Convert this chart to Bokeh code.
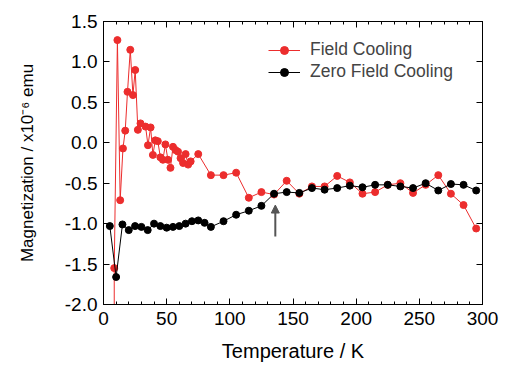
from bokeh.plotting import figure
from bokeh.models import (Range1d, LinearAxis, SingleIntervalTicker, PrintfTickFormatter,
                          CustomJSTickFormatter, Arrow, NormalHead, Legend, LegendItem)
from bokeh.embed import file_html
from bokeh.resources import INLINE

# ---- data ----
fc_temp = [8.5, 8.5, 11, 13.2, 15.4, 17.2, 19, 21.2, 23.3, 25.1,
           27.2, 29.3, 33.3, 35.2, 37.3, 39.1, 41, 43, 45, 47,
           49, 51, 53, 55, 57, 59, 61, 63, 65, 67,
           69, 75, 85, 95, 105, 115, 125, 135, 145, 155,
           165, 175, 185, 195, 205, 215, 225, 235, 245, 255,
           265, 275, 285, 295]
fc_mag = [-2.6, -1.55, 1.27, -0.71, -0.07, 0.15, 0.63, 1.15, 0.59, 0.90,
          0.16, 0.24, 0.20, -0.03, 0.19, -0.15, 0.03, 0.02, -0.18, -0.21,
          -0.02, -0.21, -0.31, -0.05, -0.09, -0.11, -0.19, -0.25, -0.14, -0.27,
          -0.23, -0.14, -0.40, -0.40, -0.37, -0.68, -0.61, -0.64, -0.47, -0.63,
          -0.54, -0.54, -0.41, -0.49, -0.63, -0.61, -0.52, -0.50, -0.62, -0.52,
          -0.40, -0.63, -0.77, -1.06]

zfc_temp = [5, 10, 15, 20, 25, 30, 35, 40, 45, 50, 55, 60, 65, 70, 75, 80, 85,
            95, 105, 115, 125, 135, 145, 155, 165, 175, 185, 195, 205, 215,
            225, 235, 245, 255, 265, 275, 285, 295]
zfc_mag = [-1.03, -1.66, -1.01, -1.08, -1.03, -1.04, -1.08, -1.00, -1.03, -1.05,
           -1.04, -1.03, -1.00, -0.97, -0.96, -0.99, -1.04,
           -0.97, -0.89, -0.84, -0.78, -0.63, -0.61, -0.62, -0.56, -0.58,
           -0.56, -0.53, -0.55, -0.52, -0.52, -0.54, -0.56, -0.50, -0.59,
           -0.51, -0.52, -0.59]

series_labels = ["Field Cooling", "Zero Field Cooling"]
x_title = "Temperature / K"
y_title = "Magnetization / x10\u207b\u2076 emu"

# arrow marking the transition temperature
arrow_temp = 136
arrow_from = -1.16
arrow_to = -0.77

RED = "#EC2D2D"
FONT = "Liberation Sans"

p = figure(frame_width=379, frame_height=283, output_backend="svg", toolbar_location=None,
           x_range=Range1d(0, 300), y_range=Range1d(-2.0, 1.5),
           min_border_left=103, min_border_right=18, min_border_top=21, min_border_bottom=63,
           x_axis_location=None, y_axis_location=None)
p.xgrid.visible = False
p.ygrid.visible = False
p.outline_line_color = "black"
p.outline_line_width = 1
p.background_fill_color = "white"
p.border_fill_color = "white"


def style(ax, labels=True, minor=True):
    ax.axis_line_color = "black"
    ax.axis_line_width = 1
    ax.major_tick_in = 6
    ax.major_tick_out = 0
    ax.major_tick_line_color = "black"
    if minor:
        ax.minor_tick_in = 3
        ax.minor_tick_out = 0
        ax.minor_tick_line_color = "black"
    else:
        ax.minor_tick_line_color = None
    ax.major_label_text_font = FONT
    ax.major_label_text_color = "black"
    ax.axis_label_text_font = FONT
    ax.axis_label_text_font_style = "normal"
    ax.axis_label_text_color = "black"
    if not labels:
        ax.formatter = CustomJSTickFormatter(code="return ''")
        ax.major_label_standoff = 0


xb = LinearAxis(ticker=SingleIntervalTicker(interval=50, num_minor_ticks=5))
style(xb)
xb.major_label_text_font_size = "19px"
xb.major_label_standoff = 7
xb.axis_label = x_title
xb.axis_label_text_font_size = "20px"
xb.axis_label_standoff = 12
p.add_layout(xb, "below")

xt = LinearAxis(ticker=SingleIntervalTicker(interval=50, num_minor_ticks=5))
style(xt, labels=False)
p.add_layout(xt, "above")

yl = LinearAxis(ticker=SingleIntervalTicker(interval=0.5, num_minor_ticks=0),
                formatter=PrintfTickFormatter(format="%.1f"))
style(yl, minor=False)
yl.major_label_text_font_size = "19px"
yl.major_label_standoff = 6
yl.axis_label = y_title
yl.axis_label_text_font_size = "17px"
yl.axis_label_standoff = 25
p.add_layout(yl, "left")

yr = LinearAxis(ticker=SingleIntervalTicker(interval=0.5, num_minor_ticks=0))
style(yr, labels=False, minor=False)
p.add_layout(yr, "right")

fc_line = p.line(fc_temp, fc_mag, line_color=RED, line_width=1)
fc_pts = p.scatter(fc_temp, fc_mag, size=7, fill_color=RED, line_color=RED)
zfc_line = p.line(zfc_temp, zfc_mag, line_color="black", line_width=1)
zfc_pts = p.scatter(zfc_temp, zfc_mag, size=7, fill_color="black", line_color="black")

p.add_layout(Arrow(end=NormalHead(size=8, fill_color="#555555", line_color="#555555"),
                   x_start=arrow_temp, y_start=arrow_from, x_end=arrow_temp, y_end=arrow_to,
                   line_color="#555555", line_width=2))

legend = Legend(items=[LegendItem(label=series_labels[0], renderers=[fc_line, fc_pts]),
                       LegendItem(label=series_labels[1], renderers=[zfc_line, zfc_pts])],
                location=(165, 222), glyph_width=32, glyph_height=20, label_standoff=10,
                spacing=1, padding=0, margin=0,
                label_text_font=FONT, label_text_font_size="17.5px",
                border_line_color=None, background_fill_alpha=0)
p.add_layout(legend)

open("out.html", "w").write(file_html(p, INLINE))
